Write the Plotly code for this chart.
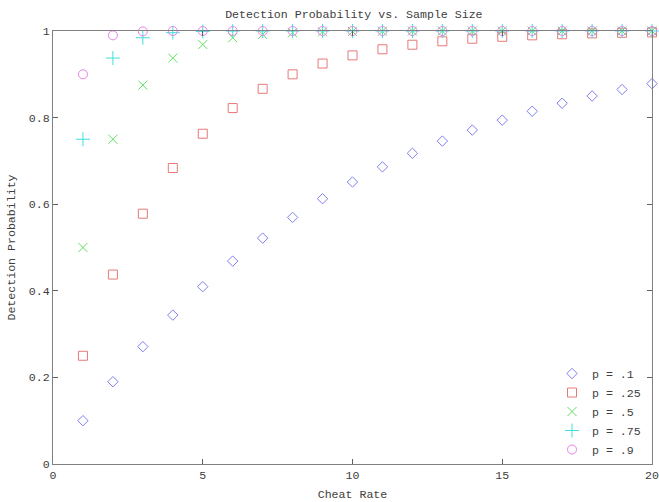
import plotly.graph_objects as go

cheat_rate = list(range(1, 21))
p_10 = [0.1, 0.19, 0.271, 0.3439, 0.4095, 0.4686, 0.5217, 0.5695, 0.6126, 0.6513,
        0.6862, 0.7176, 0.7458, 0.7712, 0.7941, 0.8147, 0.8332, 0.8499, 0.8649, 0.8784]
p_25 = [0.25, 0.4375, 0.5781, 0.6836, 0.7627, 0.822, 0.8665, 0.8999, 0.9249, 0.9437,
        0.9578, 0.9683, 0.9762, 0.9822, 0.9866, 0.99, 0.9925, 0.9944, 0.9958, 0.9968]
p_50 = [0.5, 0.75, 0.875, 0.9375, 0.9688, 0.9844, 0.9922, 0.9961, 0.998, 0.999,
        0.9995, 0.9998, 0.9999, 0.9999, 1.0, 1.0, 1.0, 1.0, 1.0, 1.0]
p_75 = [0.75, 0.9375, 0.9844, 0.9961, 0.999, 0.9998, 0.9999, 1.0, 1.0, 1.0,
        1.0, 1.0, 1.0, 1.0, 1.0, 1.0, 1.0, 1.0, 1.0, 1.0]
p_90 = [0.9, 0.99, 0.999, 0.9999, 1.0, 1.0, 1.0, 1.0, 1.0, 1.0,
        1.0, 1.0, 1.0, 1.0, 1.0, 1.0, 1.0, 1.0, 1.0, 1.0]

series = [
    ("p = .1", p_10, "diamond-open", "#8080f0", 8),
    ("p = .25", p_25, "square-open", "#e87878", 9),
    ("p = .5", p_50, "x-thin-open", "#60e060", 9),
    ("p = .75", p_75, "cross-thin-open", "#40e0e0", 10),
    ("p = .9", p_90, "circle-open", "#e880e8", 9),
]

FONT = "Liberation Mono, DejaVu Sans Mono, monospace"
FS = 11.6
fig = go.Figure()
for name, vals, sym, col, sz in series:
    fig.add_trace(go.Scatter(
        x=cheat_rate, y=vals, mode="markers", name=name, cliponaxis=False,
        marker=dict(symbol=sym, size=sz, color=col, line=dict(color=col, width=1)),
    ))

axis_common = dict(
    showgrid=False, zeroline=False, showline=True, linecolor="#808080", linewidth=1,
    mirror="ticks", ticks="inside", ticklen=5, tickcolor="#606060", automargin=False,
    tickfont=dict(family=FONT, size=FS, color="#404040"), ticklabeloverflow="allow",
)
fig.update_layout(
    width=659, height=502,
    margin=dict(l=53, r=7, t=31, b=38),
    plot_bgcolor="white", paper_bgcolor="white",
    font=dict(family=FONT, size=FS, color="#404040"),
    title=dict(text="Detection Probability vs. Sample Size", x=0.537, xanchor="center",
               y=0.972, yanchor="middle", font=dict(family=FONT, size=FS, color="#404040")),
    xaxis=dict(range=[0, 20], dtick=5, tick0=0,
               title=dict(text="Cheat Rate", standoff=8, font=dict(family=FONT, size=FS)),
               **axis_common),
    yaxis=dict(range=[0, 1], dtick=0.2, tick0=0,
               title=dict(text="Detection Probability", standoff=10, font=dict(family=FONT, size=FS)),
               **axis_common),
    legend=dict(x=0.99, y=0.0, xanchor="right", yanchor="bottom", bgcolor="rgba(0,0,0,0)",
                font=dict(family=FONT, size=FS, color="#404040"), tracegroupgap=0,
                itemsizing="trace"),
)

fig.write_html(
    "out.html",
    config={"displayModeBar": False},
    post_script="document.body.style.margin='0';document.body.style.overflow='hidden';",
)
